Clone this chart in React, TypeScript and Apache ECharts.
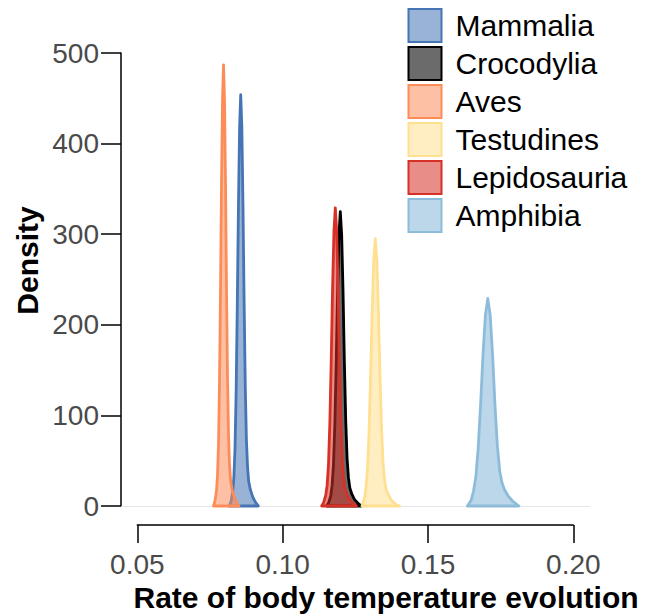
import React, { useEffect, useRef } from "react";
import * as echarts from "echarts";

const FONT = '"Liberation Sans", Arial, Helvetica, sans-serif';

const species = ["Mammalia", "Crocodylia", "Aves", "Testudines", "Lepidosauria", "Amphibia"];
const lineColors = ["#4575B4", "#000000", "#FC8D59", "#FEE090", "#D73027", "#8DBCDA"];
const fillColors = [
  "rgba(69,117,180,0.55)",
  "rgba(0,0,0,0.58)",
  "rgba(252,141,89,0.55)",
  "rgba(254,224,144,0.55)",
  "rgba(215,48,39,0.55)",
  "rgba(145,191,219,0.62)",
];

const mammaliaX = [0.08165, 0.08224, 0.08283, 0.08322, 0.08361, 0.084, 0.08439, 0.08479, 0.08518, 0.08557, 0.08596, 0.08635, 0.08675, 0.08714, 0.08753, 0.08792, 0.08831, 0.0889, 0.08969, 0.09067, 0.09165];
const mammaliaY = [0, 5, 16, 32, 64, 127, 222, 331, 418, 454, 418, 331, 222, 132, 73, 43, 27, 18, 10, 4, 0];

const crocodyliaX = [0.11515, 0.11585, 0.11655, 0.11702, 0.11749, 0.11796, 0.11843, 0.11889, 0.11936, 0.11983, 0.1203, 0.12077, 0.12123, 0.1217, 0.12217, 0.12264, 0.12311, 0.12381, 0.12474, 0.12591, 0.12708];
const crocodyliaY = [0, 4, 11, 23, 46, 91, 159, 237, 299, 325, 299, 237, 159, 94, 52, 31, 20, 13, 7, 3, 0];

const avesX = [0.07621, 0.07673, 0.07724, 0.07759, 0.07793, 0.07827, 0.07862, 0.07896, 0.07931, 0.07965, 0.07999, 0.08034, 0.08068, 0.08103, 0.08137, 0.08171, 0.08206, 0.08257, 0.08326, 0.08412, 0.08498];
const avesY = [0, 6, 17, 34, 68, 136, 239, 356, 448, 487, 448, 356, 239, 141, 78, 46, 29, 19, 11, 4, 0];

const testudinesX = [0.12731, 0.12812, 0.12865, 0.12919, 0.12973, 0.13026, 0.1308, 0.13133, 0.13187, 0.13241, 0.13294, 0.13348, 0.13401, 0.13455, 0.13509, 0.13562, 0.13643, 0.1375, 0.13884, 0.14018];
const testudinesY = [0, 8, 20, 41, 83, 145, 215, 271, 295, 271, 215, 145, 86, 47, 28, 18, 12, 6, 2, 0];

const lepidosauriaX = [0.11343, 0.11413, 0.11483, 0.1153, 0.11577, 0.11624, 0.11671, 0.11717, 0.11764, 0.11811, 0.11858, 0.11905, 0.11951, 0.11998, 0.12045, 0.12092, 0.12139, 0.12209, 0.12302, 0.12419, 0.12536];
const lepidosauriaY = [0, 4, 12, 23, 46, 92, 161, 240, 303, 329, 303, 240, 161, 95, 53, 31, 20, 13, 7, 3, 0];

const amphibiaX = [0.16357, 0.1648, 0.16563, 0.16645, 0.16727, 0.1681, 0.16892, 0.16975, 0.17057, 0.17139, 0.17222, 0.17304, 0.17387, 0.17469, 0.17551, 0.17634, 0.17757, 0.17922, 0.18128];
const amphibiaY = [0, 6, 16, 32, 64, 112, 167, 211, 229, 211, 167, 112, 66, 38, 25, 18, 11, 5, 0];

const seriesX = [mammaliaX, crocodyliaX, avesX, testudinesX, lepidosauriaX, amphibiaX];
const seriesY = [mammaliaY, crocodyliaY, avesY, testudinesY, lepidosauriaY, amphibiaY];

const xTicks = [0.05, 0.1, 0.15, 0.2];
const yTicks = [0, 100, 200, 300, 400, 500];

const xTitle = "Rate of body temperature evolution";
const yTitle = "Density";

export default function App() {
  const ref = useRef<HTMLDivElement>(null);

  useEffect(() => {
    if (!ref.current) return;
    const chart = echarts.init(ref.current, undefined, { renderer: "svg" });

    const pxPerUnit = 436 / (xTicks[xTicks.length - 1] - xTicks[0]);
    const mainMin = xTicks[0] - 16.33 / pxPerUnit;
    const mainMax = xTicks[0] + 452.67 / pxPerUnit;

    const option: any = {
      animation: false,
      backgroundColor: "#ffffff",
      grid: [
        { left: 121, width: 469, top: 53, height: 453 },
        { left: 137.33, width: 436, top: 520, height: 5 },
      ],
      xAxis: [
        {
          type: "value",
          gridIndex: 0,
          min: mainMin,
          max: mainMax,
          axisLine: { show: true, onZero: false, lineStyle: { color: "#e6e6e6", width: 1 } },
          axisTick: { show: false },
          axisLabel: { show: false },
          splitLine: { show: false },
        },
        {
          type: "value",
          gridIndex: 1,
          min: xTicks[0],
          max: xTicks[xTicks.length - 1],
          interval: xTicks[1] - xTicks[0],
          axisLine: { show: true, onZero: false, lineStyle: { color: "#000", width: 1.5 } },
          axisTick: { show: true, length: 18, lineStyle: { color: "#000", width: 1.5 } },
          axisLabel: {
            fontSize: 28,
            color: "#4a4a4a",
            margin: 25,
            fontFamily: FONT,
            formatter: (v: number) => v.toFixed(2),
          },
          splitLine: { show: false },
        },
      ],
      yAxis: [
        {
          type: "value",
          gridIndex: 0,
          min: yTicks[0],
          max: yTicks[yTicks.length - 1],
          interval: yTicks[1] - yTicks[0],
          axisLine: { show: true, onZero: false, lineStyle: { color: "#000", width: 1.5 } },
          axisTick: { show: true, length: 20, lineStyle: { color: "#000", width: 1.5 } },
          axisLabel: { fontSize: 28, color: "#4a4a4a", margin: 22, fontFamily: FONT },
          splitLine: { show: false },
        },
        { type: "value", gridIndex: 1, show: false },
      ],
      legend: {
        orient: "vertical",
        left: 407.5,
        top: 8,
        padding: 0,
        itemWidth: 33,
        itemHeight: 33,
        itemGap: 3,
        icon: "rect",
        selectedMode: false,
        textStyle: { fontSize: 30, color: "#000", fontFamily: FONT, padding: [0, 0, 0, 9] },
        data: species.map((name, i) => ({
          name,
          itemStyle: { color: fillColors[i], borderColor: lineColors[i], borderWidth: 2 },
        })),
      },
      graphic: [
        {
          type: "text",
          x: 386,
          y: 597.5,
          style: {
            text: xTitle,
            fontSize: 30,
            fontWeight: "bold",
            fontFamily: FONT,
            fill: "#000",
            align: "center",
            verticalAlign: "middle",
          },
        },
        {
          type: "text",
          x: 27,
          y: 260.5,
          rotation: Math.PI / 2,
          style: {
            text: yTitle,
            fontSize: 30,
            fontWeight: "bold",
            fontFamily: FONT,
            fill: "#000",
            align: "center",
            verticalAlign: "middle",
          },
        },
      ],
      series: species.map((name, i) => {
        const xs = seriesX[i];
        const ys = seriesY[i];
        const data = xs.map((x, j) => [x, ys[j]]);
        data.push([xs[0], 0]);
        return {
          name,
          type: "line",
          xAxisIndex: 0,
          yAxisIndex: 0,
          data,
          symbol: "none",
          showSymbol: false,
          clip: false,
          silent: true,
          z: 2 + i,
          lineStyle: { color: lineColors[i], width: 2.8, join: "round", cap: "round" },
          itemStyle: { color: lineColors[i] },
          areaStyle: { color: fillColors[i], opacity: 1 },
        };
      }),
    };

    chart.setOption(option);
    return () => chart.dispose();
  }, []);

  return (
    <div
      ref={ref}
      style={{ position: "absolute", left: 0, top: 0, width: 645, height: 615, background: "#fff" }}
    />
  );
}
